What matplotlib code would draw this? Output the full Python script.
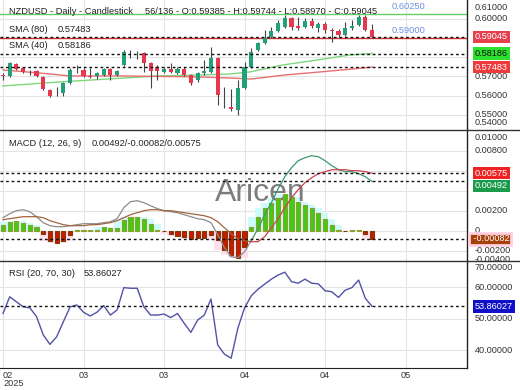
import matplotlib
matplotlib.use('Agg')
import matplotlib.pyplot as plt
from matplotlib.lines import Line2D
from matplotlib.patches import Rectangle
from matplotlib.transforms import blended_transform_factory
import numpy as np

plt.rcParams['font.family'] = ['Liberation Sans', 'DejaVu Sans']

# NZDUSD daily candles, 56 visible
opens = [0.5706, 0.5702, 0.5764, 0.5743, 0.5722, 0.5728, 0.5696, 0.5629, 0.5606, 0.5613,
         0.5665, 0.5726, 0.5733, 0.5702, 0.5702, 0.5707, 0.5738, 0.5707, 0.5759, 0.5821,
         0.5823, 0.5821, 0.5769, 0.5748, 0.5722, 0.5738, 0.5717, 0.5738, 0.5707, 0.5681,
         0.5717, 0.5722, 0.5795, 0.5548, 0.5540, 0.5525, 0.5639, 0.5748, 0.5837, 0.5873,
         0.5905, 0.5936, 0.5957, 0.6003, 0.5962, 0.5957, 0.5988, 0.5952, 0.5972, 0.5941,
         0.5936, 0.5915, 0.5952, 0.5967, 0.6009, 0.59385]
highs = [0.5715, 0.5775, 0.5769, 0.5748, 0.5733, 0.5733, 0.5702, 0.5634, 0.5644, 0.5670,
         0.5743, 0.5759, 0.5743, 0.5743, 0.5722, 0.5743, 0.5743, 0.5733, 0.5837, 0.5837,
         0.5831, 0.5826, 0.5774, 0.5759, 0.5748, 0.5769, 0.5748, 0.5748, 0.5712, 0.5722,
         0.5785, 0.5852, 0.5800, 0.5644, 0.5634, 0.5681, 0.5774, 0.5847, 0.5878, 0.5941,
         0.5957, 0.5993, 0.6019, 0.6008, 0.6008, 0.6003, 0.6003, 0.5983, 0.5983, 0.5952,
         0.5946, 0.5983, 0.5993, 0.6019, 0.6019, 0.59744]
lows = [0.5682, 0.5697, 0.5733, 0.5717, 0.5707, 0.5697, 0.5629, 0.5592, 0.5598, 0.5598,
        0.5660, 0.5717, 0.5697, 0.5691, 0.5686, 0.5702, 0.5681, 0.5702, 0.5754, 0.5795,
        0.5790, 0.5723, 0.5639, 0.5681, 0.5717, 0.5717, 0.5712, 0.5702, 0.5655, 0.5670,
        0.5707, 0.5717, 0.5551, 0.5536, 0.5519, 0.5499, 0.5634, 0.5743, 0.5831, 0.5868,
        0.5899, 0.5931, 0.5952, 0.5941, 0.5941, 0.5952, 0.5952, 0.5931, 0.5926, 0.5879,
        0.5905, 0.5910, 0.5941, 0.5962, 0.5936, 0.58970]
closes = [0.5700, 0.5769, 0.5738, 0.5722, 0.5720, 0.5702, 0.5634, 0.5598, 0.5610, 0.5665,
          0.5733, 0.5730, 0.5702, 0.5696, 0.5717, 0.5738, 0.5707, 0.5728, 0.5826, 0.5823,
          0.5820, 0.5769, 0.5728, 0.5728, 0.5738, 0.5722, 0.5738, 0.5707, 0.5665, 0.5717,
          0.5728, 0.5795, 0.5603, 0.5545, 0.5530, 0.5639, 0.5748, 0.5826, 0.5873, 0.5899,
          0.5936, 0.5977, 0.6003, 0.5957, 0.5952, 0.5988, 0.5962, 0.5972, 0.5941, 0.5936,
          0.5915, 0.5952, 0.5962, 0.6009, 0.5941, 0.59045]

# moving averages (knots: candle index, value)
sma40_idx = [0, 8.5, 18, 23.4, 29.4, 33.8, 36.8, 41.7, 46.8, 51.7, 55]
sma40_val = [0.5650, 0.5671, 0.5691, 0.5702, 0.5707, 0.5712, 0.5723, 0.5759, 0.5785, 0.5811, 0.58186]
sma80_idx = [0, 5.5, 10, 18, 29, 34, 37, 42, 47, 52, 55]
sma80_val = [0.5733, 0.5717, 0.5702, 0.5702, 0.5697, 0.5691, 0.5686, 0.5707, 0.5722, 0.5738, 0.57483]

# MACD (12, 26, 9)
macd_line = [0.0013, 0.0017, 0.0020, 0.0021, 0.0019, 0.0014, 0.0008, 0.0005, 0.0004, 0.0004,
             0.0005, 0.0006, 0.0007, 0.0007, 0.0007, 0.0008, 0.0009, 0.0012, 0.0023, 0.0029,
             0.0030, 0.0028, 0.0025, 0.0022, 0.0020, 0.0019, 0.0018, 0.0016, 0.0014, 0.0012,
             0.0011, 0.0008, -0.0004, -0.0017, -0.0026, -0.0027, -0.0021, -0.0010, 0.0002, 0.0016,
             0.0028, 0.0042, 0.0054, 0.0063, 0.0070, 0.0073, 0.0075, 0.0074, 0.0070, 0.0065,
             0.0061, 0.0059, 0.0059, 0.0057, 0.0054, 0.00492]
signal_line = [0.0011, 0.0012, 0.0013, 0.0014, 0.0014, 0.0014, 0.0013, 0.0010, 0.0008, 0.0006,
               0.0005, 0.0005, 0.0005, 0.0006, 0.0006, 0.0007, 0.0008, 0.0010, 0.0013, 0.0016,
               0.0018, 0.0020, 0.0021, 0.0021, 0.0020, 0.0020, 0.0019, 0.0018, 0.0017, 0.0016,
               0.0015, 0.0013, 0.0009, 0.0003, -0.0003, -0.0008, -0.0010, -0.0011, -0.0011, -0.0006,
               0.0003, 0.0012, 0.0023, 0.0033, 0.0041, 0.0048, 0.0053, 0.0057, 0.0059, 0.0061,
               0.0061, 0.0061, 0.0060, 0.0060, 0.0059, 0.00575]
macd_hist = [0.0006, 0.0009, 0.0010, 0.0008, 0.0006, 0.0004, -0.0003, -0.0010, -0.0012, -0.0010,
             -0.0004, 0.0001, 0.0001, 0.0001, 0.0001, 0.0004, 0.0003, 0.0003, 0.0011, 0.0014,
             0.0014, 0.0012, 0.0007, 0.0001, -0.00005, -0.0003, -0.0005, -0.0006, -0.0008, -0.0007,
             -0.0007, -0.0004, -0.0009, -0.0019, -0.0024, -0.0027, -0.0016, 0.0004, 0.0014, 0.0023,
             0.0028, 0.0033, 0.0037, 0.0034, 0.0029, 0.0026, 0.0023, 0.0018, 0.0012, 0.0006,
             0.00005, -0.00005, 0.00003, 0.00003, -0.0003, -0.00082]

# RSI (20, 70, 30)
rsi = [51.6, 56.9, 55.3, 53.7, 53.4, 50.6, 44.8, 41.8, 44.2, 49.0,
       53.7, 54.3, 52.0, 50.8, 52.0, 54.1, 51.1, 52.7, 59.8, 59.6,
       59.6, 53.7, 51.1, 51.1, 51.4, 50.3, 51.6, 48.5, 45.6, 49.5,
       51.1, 56.2, 41.6, 38.7, 37.4, 46.9, 53.4, 57.2, 59.3, 60.9,
       62.5, 63.8, 64.7, 61.7, 61.2, 62.5, 61.2, 61.0, 58.8, 58.5,
       56.7, 59.0, 59.8, 62.2, 56.4, 53.86027]

month_pos = [0, 12, 24, 36, 48, 60]
month_labels = ['02', '03', '03', '04', '04', '05']

price_ticks = [0.54, 0.55, 0.56, 0.57, 0.60, 0.61]
macd_ticks = [0.010, 0.008, 0.002, 0.0, -0.002, -0.004]
rsi_ticks = [70, 60, 50, 40]

W, H = 520, 390
PLOT_R = 467
fig = plt.figure(figsize=(W / 100, H / 100), dpi=100)


def add_panel(top, bottom):
    ax = fig.add_axes([0, 1 - bottom / H, PLOT_R / W, (bottom - top) / H])
    for s in ['left', 'top', 'bottom']:
        ax.spines[s].set_visible(False)
    ax.spines['right'].set_color('#222222')
    ax.spines['right'].set_linewidth(1.0)
    ax.tick_params(left=False, bottom=False, labelleft=False, labelbottom=False)
    ax.set_xlim(-0.447, 69.15)
    ax.set_xticks(month_pos)
    ax.set_axisbelow(True)
    ax.grid(True, color='#e4e4e4', lw=0.8)
    return ax


ax1 = add_panel(0, 130)
ax2 = add_panel(130, 261)
ax3 = add_panel(261, 368)
ax3.spines['bottom'].set_visible(True)
ax3.spines['bottom'].set_color('#222222')

x = np.arange(len(closes))
o = np.array(opens)
c = np.array(closes)
up = c >= o
GREEN = '#22a07a'
RED = '#e8384f'

# ---- price panel
ax1.set_ylim(0.54209, 0.60969)
ax1.set_yticks([0.55, 0.56, 0.57, 0.58, 0.59, 0.60])
ax1.vlines(x, lows, highs, color='#444444', lw=0.8, zorder=3)
ax1.bar(x, np.maximum(np.abs(c - o), 0.00008), bottom=np.minimum(o, c), width=0.62,
        color=np.where(up, GREEN, RED), zorder=4)
ax1.plot(sma40_idx, sma40_val, color='#7dd87d', lw=1.0, zorder=2)
ax1.plot(sma80_idx, sma80_val, color='#e87070', lw=1.0, zorder=2)
ax1.axhline(0.6025, color='#66cc66', lw=1.0, zorder=1)
ax1.axhline(0.5900, color='#cc3333', lw=1.0, zorder=1)
for lv in [closes[-1], sma40_val[-1], sma80_val[-1]]:
    ax1.axhline(lv, color='#111111', lw=1.0, ls=(0, (2, 2)), zorder=5)
# horizontal line labels in light blue
for val, txt in [(0.6025, '0.60250'), (0.5900, '0.59000')]:
    ax1.annotate(txt, xy=(392 / PLOT_R, val), xycoords=('axes fraction', 'data'),
                 xytext=(0, 3), textcoords='offset pixels', fontsize=6.7,
                 color='#6f8fe0', va='bottom', ha='left')

# ---- MACD panel
ax2.set_ylim(-0.00303, 0.01007)
ax2.set_yticks([0.008, 0.006, 0.004, 0.002, 0.0, -0.002])
h = np.array(macd_hist)
shade = []
for i, v in enumerate(h):
    nb = h[max(i - 1, 0):i + 2]
    same = nb[np.sign(nb) == np.sign(v)]
    shade.append(np.sign(v) * np.max(np.abs(same)) if len(same) else v)
shade = np.array(shade)
ax2.bar(x, shade, width=1.0, color=np.where(shade >= 0, '#cdfafa', '#ffdfeb'), zorder=0.6)
ax2.text(260 / PLOT_R, 1 - (193 - 130) / 131, 'Aricen', transform=ax2.transAxes, fontsize=23,
         color='#7c7c7c', ha='center', va='center', zorder=0.7)
ax2.bar(x, h, width=0.62, color=np.where(h >= 0, '#3fcc14', '#cc1a00'),
        edgecolor=np.where(h >= 0, '#8fa02a', '#7a3c08'), lw=0.8, zorder=2)
split = 37
ax2.plot(x[:split + 1], macd_line[:split + 1], color='#8c8c8c', lw=0.9, zorder=3)
ax2.plot(x[:split + 1], signal_line[:split + 1], color='#a0643c', lw=0.9, zorder=3)
ax2.plot(x[split:], macd_line[split:], color='#3a9a6e', lw=0.9, zorder=3)
ax2.plot(x[split:], signal_line[split:], color='#cf4050', lw=0.9, zorder=3)
for lv in [signal_line[-1], macd_line[-1], macd_hist[-1]]:
    ax2.axhline(lv, color='#111111', lw=1.0, ls=(0, (2, 2)), zorder=5)

# ---- RSI panel
ax3.set_ylim(34.3, 68.25)
ax3.set_yticks([40, 50, 60])
ax3.plot(x, rsi, color='#5252a8', lw=1.0, zorder=3)
ax3.axhline(rsi[-1], color='#111111', lw=1.0, ls=(0, (2, 2)), zorder=5)


# ---- right-hand scale labels
def scale_label(ax, val, txt, top_m, bot_m, box=None, tc='#333333'):
    lo, hi = ax.get_ylim()
    bb = ax.get_position()
    hpx = bb.height * H
    f = (val - lo) / (hi - lo)
    f = min(max(f, bot_m / hpx), 1 - top_m / hpx)
    kw = {}
    if box:
        kw['bbox'] = dict(boxstyle='square,pad=0.18', fc=box, ec='none')
    t = ax.text(1 + 8 / PLOT_R, f, txt, transform=ax.transAxes, fontsize=6.6, color=tc,
                va='center', ha='left', clip_on=False, **kw)
    # keep the label inside its own panel strip
    t.set_clip_path(Rectangle((bb.x0, bb.y0), 1, bb.height, transform=fig.transFigure))
    t.set_clip_on(True)
    return t


for v in price_ticks:
    scale_label(ax1, v, '%.5f' % v, 7, 7)
scale_label(ax1, closes[-1], '0.59045', 7, 7, '#e4404e', 'white')
scale_label(ax1, sma40_val[-1], '0.58186', 7, 7, '#2ee02e', '#111111')
scale_label(ax1, sma80_val[-1], '0.57483', 7, 7, '#ee3a3a', 'white')

for v in macd_ticks:
    scale_label(ax2, v, '0' if v == 0 else '%.5f' % v, 8, 2)
scale_label(ax2, signal_line[-1], '0.00575', 7, 7, '#ee2424', 'white')
ax2.text(1 + 8 / PLOT_R, 0.00492, '0.00492', transform=blended_transform_factory(ax2.transAxes, ax2.transData),
         fontsize=6.6, color='white', va='top', ha='left', clip_on=False,
         bbox=dict(boxstyle='square,pad=0.18', fc='#1c9a4c', ec='none'))
ax2.text(1 + 4 / PLOT_R, macd_hist[-1], ' -0.00082', transform=blended_transform_factory(ax2.transAxes, ax2.transData),
         fontsize=6.6, color='white', va='center', ha='left', clip_on=False,
         bbox=dict(boxstyle='square,pad=0.18', fc='#a8400c', ec='#ffd0e0', lw=2))

for v in rsi_ticks:
    scale_label(ax3, v, '%.5f' % v, 6, 7)
scale_label(ax3, rsi[-1], '53.86027', 7, 7, '#1010c8', 'white')

# ---- panel separators
for ypx in [130, 261]:
    fig.add_artist(Line2D([0, 1], [1 - ypx / H] * 2, color='#333333', lw=1.0))


# ---- captions
def cap(xpx, ypx, s, size=6.7, color='#222222'):
    fig.text(xpx / W, 1 - ypx / H, s, fontsize=size, color=color, va='center', ha='left')


cap(9, 12, 'NZDUSD - Daily - Candlestick')
cap(145, 12, '56/136 - O:0.59385 - H:0.59744 - L:0.58970 - C:0.59045')
cap(9, 30, 'SMA (80)')
cap(58, 30, '0.57483')
cap(9, 46, 'SMA (40)')
cap(58, 46, '0.58186')
cap(9, 143, 'MACD (12, 26, 9)')
cap(92, 143, '0.00492/-0.00082/0.00575')
cap(9, 274, 'RSI (20, 70, 30)')
cap(84, 274, '53.86027')

# ---- date labels
tr = blended_transform_factory(ax3.transData, fig.transFigure)
for i, (p, lab) in enumerate(zip(month_pos, month_labels)):
    ax3.text(p, 1 - 375 / H, lab, transform=tr, fontsize=6.6, color='#333333',
             ha='left' if i == 0 else 'center', va='center', clip_on=False)
ax3.text(month_pos[0], 1 - 384 / H, '2025', transform=tr, fontsize=6.6, color='#333333',
         ha='left', va='center', clip_on=False)

fig.savefig('out.png', dpi=100, facecolor='white')
